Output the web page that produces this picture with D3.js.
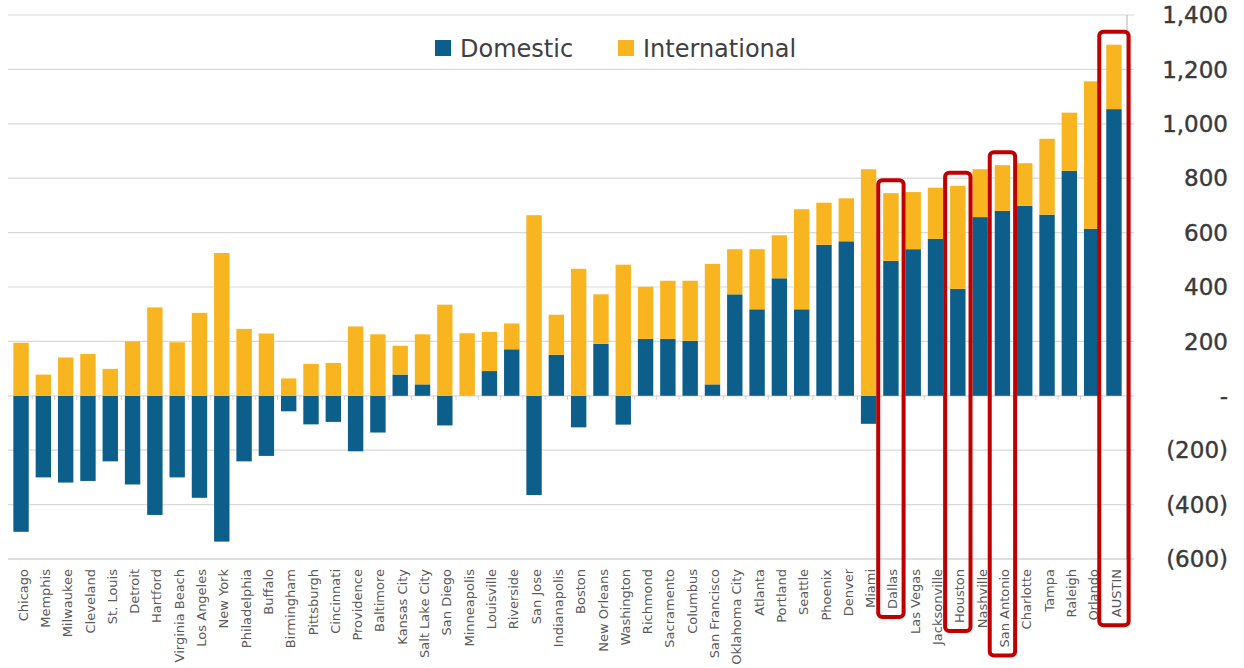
<!DOCTYPE html>
<html>
<head>
<meta charset="utf-8">
<script src="https://cdn.jsdelivr.net/npm/d3@7"></script>
<style>
  body { margin: 0; background: #fff; }
  svg { display: block; }
</style>
</head>
<body>
<div id="chart"></div>
<script>
// cities in chart order
var cities = ["Chicago", "Memphis", "Milwaukee", "Cleveland", "St. Louis", "Detroit", "Hartford",
    "Virginia Beach", "Los Angeles", "New York", "Philadelphia", "Buffalo", "Birmingham", "Pittsburgh",
    "Cincinnati", "Providence", "Baltimore", "Kansas City", "Salt Lake City", "San Diego", "Minneapolis",
    "Louisville", "Riverside", "San Jose", "Indianapolis", "Boston", "New Orleans", "Washington",
    "Richmond", "Sacramento", "Columbus", "San Francisco", "Oklahoma City", "Atlanta", "Portland",
    "Seattle", "Phoenix", "Denver", "Miami", "Dallas", "Las Vegas", "Jacksonville", "Houston",
    "Nashville", "San Antonio", "Charlotte", "Tampa", "Raleigh", "Orlando", "AUSTIN"];

var domestic = [-500, -300, -319, -313, -241, -326, -438, -300, -375, -536, -241, -221, -57, -105,
    -96, -204, -135, 78, 42, -109, 0, 91, 171, -365, 151, -116, 191, -106,
    209, 209, 202, 42, 373, 318, 432, 318, 555, 568, -103, 496, 539, 577, 393,
    657, 680, 699, 666, 827, 614, 1054];

var international = [195, 78, 141, 154, 99, 200, 325, 197, 305, 525, 246, 229, 64, 117,
    121, 255, 226, 106, 184, 335, 230, 144, 95, 664, 147, 467, 182, 482,
    192, 214, 221, 443, 166, 221, 158, 368, 155, 158, 833, 249, 210, 188, 379,
    176, 168, 156, 279, 214, 542, 237];

var yTicks = [-600, -400, -200, 0, 200, 400, 600, 800, 1000, 1200, 1400];
var highlighted = ["Dallas", "Houston", "San Antonio", "AUSTIN"];

var seriesNames = ["Domestic", "International"];
var colours = ["#0d5f8b", "#f9b520"];

var width = 1244, height = 668;

var rows = cities.map(function (c, i) {
    return { city: c, dom: domestic[i], intl: international[i] };
});

var svg = d3.select("#chart").append("svg")
    .attr("width", width)
    .attr("height", height);

var x = d3.scaleBand()
    .domain(cities)
    .range([8, 1127])
    .paddingInner(0.31)
    .paddingOuter(0.24);

var y = d3.scaleLinear()
    .domain([-600, 1400])
    .range([559, 15]);

// gridlines
svg.append("g")
    .selectAll("line")
    .data(yTicks)
    .enter().append("line")
    .attr("x1", 8)
    .attr("x2", 1134)
    .attr("y1", function (d) { return y(d) })
    .attr("y2", function (d) { return y(d) })
    .attr("stroke", function (d) { return d == -600 ? "#bfbfbf" : "#d9d9d9" })
    .attr("stroke-width", 1.2);

// right axis line
svg.append("line")
    .attr("x1", 1127).attr("x2", 1127)
    .attr("y1", y(1400)).attr("y2", y(-600))
    .attr("stroke", "#bfbfbf")
    .attr("stroke-width", 1.2);

// y labels
var fmt = d3.format(",");
svg.append("g")
    .selectAll("text")
    .data(yTicks)
    .enter().append("text")
    .attr("x", 1228)
    .attr("y", function (d) { return y(d) })
    .attr("dy", "0.36em")
    .attr("text-anchor", "end")
    .style("font-family", "DejaVu Sans")
    .style("font-size", "23px")
    .style("fill", "#3a3a3a")
    .style("stroke", "#3a3a3a")
    .style("stroke-width", 0.4)
    .text(function (d) {
        if (d == 0) return "-";
        return d < 0 ? "(" + fmt(-d) + ")" : fmt(d);
    });

// small ticks on zero line between bars
svg.append("g")
    .selectAll("line")
    .data(cities.slice(1))
    .enter().append("line")
    .attr("x1", function (d) { return x(d) - x.step() * x.paddingInner() / 2 })
    .attr("x2", function (d) { return x(d) - x.step() * x.paddingInner() / 2 })
    .attr("y1", y(0))
    .attr("y2", y(0) + 4)
    .attr("stroke", "#d0d0d0");

// domestic bars
svg.append("g")
    .selectAll("rect")
    .data(rows)
    .enter().append("rect")
    .attr("x", function (d) { return x(d.city) })
    .attr("width", x.bandwidth())
    .attr("y", function (d) { return y(Math.max(d.dom, 0)) })
    .attr("height", function (d) { return Math.abs(y(d.dom) - y(0)) })
    .attr("fill", colours[0]);

// international bars, stacked on positive domestic
svg.append("g")
    .selectAll("rect")
    .data(rows)
    .enter().append("rect")
    .attr("x", function (d) { return x(d.city) })
    .attr("width", x.bandwidth())
    .attr("y", function (d) { return y(Math.max(d.dom, 0) + d.intl) })
    .attr("height", function (d) { return y(Math.max(d.dom, 0)) - y(Math.max(d.dom, 0) + d.intl) })
    .attr("fill", colours[1]);

// x labels
var labelTop = 569;
var labels = svg.append("g")
    .selectAll("text")
    .data(cities)
    .enter().append("text")
    .attr("transform", function (d) {
        return "translate(" + (x(d) + x.bandwidth() / 2 + 2) + "," + labelTop + ") rotate(-90)";
    })
    .attr("dy", "0.35em")
    .attr("text-anchor", "end")
    .style("font-family", "DejaVu Sans")
    .style("font-size", "13px")
    .style("fill", "#595959")
    .text(function (d) { return d });

// legend
var legend = svg.append("g").attr("transform", "translate(435,48)");
var legendX = [0, 183];
seriesNames.forEach(function (name, i) {
    legend.append("rect")
        .attr("x", legendX[i])
        .attr("y", -8)
        .attr("width", 16)
        .attr("height", 16)
        .attr("fill", colours[i]);
    legend.append("text")
        .attr("x", legendX[i] + 25)
        .attr("y", 0)
        .attr("dy", "0.36em")
        .style("font-family", "DejaVu Sans")
        .style("font-size", "24px")
        .style("fill", "#404040")
        .text(name);
});

// red highlight boxes
labels.each(function (d) {
    if (highlighted.indexOf(d) < 0) return;
    var row = rows[cities.indexOf(d)];
    var len = this.getComputedTextLength();
    var top = y(Math.max(row.dom, 0) + row.intl) - 13;
    var bottom = Math.min(labelTop + len + 8, height - 2);
    var pad = d == "AUSTIN" ? 7 : 5;
    svg.append("rect")
        .attr("x", x(d) - pad)
        .attr("y", top)
        .attr("width", x.bandwidth() + 2 * pad)
        .attr("height", bottom - top)
        .attr("rx", 4)
        .attr("fill", "none")
        .attr("stroke", "#c00000")
        .attr("stroke-width", 4);
});
</script>
</body>
</html>
